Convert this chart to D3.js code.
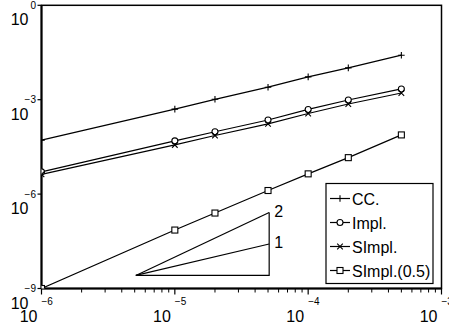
<!DOCTYPE html>
<html>
<head>
<meta charset="utf-8">
<script src="https://cdn.jsdelivr.net/npm/d3@7"></script>
<style>
  body { margin: 0; background: #fff; }
  svg { display: block; font-family: "Liberation Sans", Arial, Helvetica, sans-serif; }
</style>
</head>
<body>
<div id="chart"></div>
<script>
// step sizes (x) and errors (y)
const hValues = [1e-6, 1e-5, 2e-5, 5e-5, 1e-4, 2e-4, 5e-4];
const ccErr = [5.2e-5, 5.0e-4, 1.03e-3, 2.5e-3, 5.3e-3, 1.03e-2, 2.6e-2];
const implErr = [5.1e-6, 4.9e-5, 9.6e-5, 2.26e-4, 4.9e-4, 9.8e-4, 2.2e-3];
const simplErr = [4.25e-6, 3.65e-5, 7.3e-5, 1.7e-4, 3.65e-4, 7.3e-4, 1.63e-3];
const simpl05Err = [1.0e-9, 7.2e-8, 2.5e-7, 1.3e-6, 4.4e-6, 1.44e-5, 7.6e-5];
const seriesNames = ['CC.', 'Impl.', 'SImpl.', 'SImpl.(0.5)'];
const markerTypes = ['plus', 'circle', 'cross', 'square'];

const xTickExp = [-6, -5, -4, -3];
const yTickExp = [0, -3, -6, -9];

// slope triangle
const triX = [5.1e-6, 5.1e-5];
const triY = 2.6e-9;
const triSlopes = [1, 2];

const width = 449, height = 327;
const mLeft = 41.5, mRight = 441.5, mTop = 5.3, mBottom = 288.5;

const svg = d3.select('#chart').append('svg')
  .attr('width', width)
  .attr('height', height);

const x = d3.scaleLog().domain([1e-6, 1e-3]).range([mLeft, mRight]);
const y = d3.scaleLog().domain([1e-9, 1]).range([mBottom, mTop]);

svg.append('clipPath').attr('id', 'plotclip')
  .append('rect')
  .attr('x', mLeft).attr('y', mTop)
  .attr('width', mRight - mLeft).attr('height', mBottom - mTop);

// frame
svg.append('rect')
  .attr('x', mLeft).attr('y', mTop)
  .attr('width', mRight - mLeft).attr('height', mBottom - mTop)
  .attr('fill', 'none')
  .attr('stroke', '#000')
  .attr('stroke-width', 1.5);

// x axis: minor + major ticks downward
const minorX = [];
for (let e = -6; e < -3; e++) {
  for (let k = 2; k <= 9; k++) minorX.push(k * Math.pow(10, e));
}
svg.append('g').selectAll('line.minor')
  .data(minorX)
  .join('line')
  .attr('x1', d => x(d)).attr('x2', d => x(d))
  .attr('y1', mBottom).attr('y2', mBottom + 4)
  .attr('stroke', '#000').attr('stroke-width', 1);

const xt = svg.append('g').selectAll('g')
  .data(xTickExp)
  .join('g')
  .attr('transform', d => `translate(${x(Math.pow(10, d))},0)`);
xt.append('line')
  .attr('y1', mBottom).attr('y2', mBottom + 6)
  .attr('stroke', '#000').attr('stroke-width', 1.2);
xt.append('text')
  .attr('x', -4).attr('y', 322)
  .attr('text-anchor', 'end')
  .attr('font-size', 16)
  .text('10');
xt.append('text')
  .attr('x', 0).attr('y', 305)
  .attr('font-size', 10)
  .text(d => d === 0 ? '0' : '\u2212' + Math.abs(d));

// y axis
const yt = svg.append('g').selectAll('g')
  .data(yTickExp)
  .join('g')
  .attr('transform', d => `translate(0,${y(Math.pow(10, d))})`);
yt.append('line')
  .attr('x1', mLeft - 4).attr('x2', mLeft)
  .attr('stroke', '#000').attr('stroke-width', 1.2);
yt.append('text')
  .attr('x', 36).attr('y', 3.5)
  .attr('text-anchor', 'end')
  .attr('font-size', 10)
  .text(d => d === 0 ? '0' : '\u2212' + Math.abs(d));
yt.append('text')
  .attr('x', 28.5).attr('y', 20)
  .attr('text-anchor', 'end')
  .attr('font-size', 16)
  .text('10');

// thicker left and bottom axis lines
svg.append('line').attr('x1', mLeft).attr('x2', mLeft).attr('y1', mTop).attr('y2', mBottom)
  .attr('stroke', '#000').attr('stroke-width', 2);
svg.append('line').attr('x1', mLeft).attr('x2', mRight).attr('y1', mBottom).attr('y2', mBottom)
  .attr('stroke', '#000').attr('stroke-width', 2);

function drawMarker(g, type, cx, cy) {
  const s = 3.3;
  if (type === 'plus') {
    g.append('path').attr('d', `M${cx - s},${cy}H${cx + s}M${cx},${cy - s}V${cy + s}`)
      .attr('stroke', '#000').attr('fill', 'none').attr('stroke-width', 1.1);
  } else if (type === 'circle') {
    g.append('circle').attr('cx', cx).attr('cy', cy).attr('r', 3)
      .attr('stroke', '#000').attr('fill', '#fff').attr('stroke-width', 1.1);
  } else if (type === 'cross') {
    const c = 2.8;
    g.append('path').attr('d', `M${cx - c},${cy - c}L${cx + c},${cy + c}M${cx - c},${cy + c}L${cx + c},${cy - c}`)
      .attr('stroke', '#000').attr('fill', 'none').attr('stroke-width', 1.1);
  } else {
    g.append('rect').attr('x', cx - 3).attr('y', cy - 3).attr('width', 6).attr('height', 6)
      .attr('stroke', '#000').attr('fill', '#fff').attr('stroke-width', 1.1);
  }
}

const allSeries = [ccErr, implErr, simplErr, simpl05Err];
const line = d3.line().x((d, i) => x(hValues[i])).y(d => y(d));
const plot = svg.append('g').attr('clip-path', 'url(#plotclip)');

allSeries.forEach((vals, si) => {
  plot.append('path')
    .datum(vals)
    .attr('d', line)
    .attr('fill', 'none')
    .attr('stroke', '#000')
    .attr('stroke-width', 1.2);
});
allSeries.forEach((vals, si) => {
  vals.forEach((v, i) => drawMarker(plot, markerTypes[si], x(hValues[i]), y(v)));
});

// slope triangle
const tri = svg.append('g');
const tx0 = x(triX[0]), tx1 = x(triX[1]), ty0 = y(triY);
tri.append('path')
  .attr('d', `M${tx0},${ty0}H${tx1}V${y(triY * Math.pow(triX[1] / triX[0], d3.max(triSlopes)))}`)
  .attr('fill', 'none').attr('stroke', '#000').attr('stroke-width', 1.2);
triSlopes.forEach(s => {
  const yy = y(triY * Math.pow(triX[1] / triX[0], s));
  tri.append('line').attr('x1', tx0).attr('y1', ty0).attr('x2', tx1).attr('y2', yy)
    .attr('stroke', '#000').attr('stroke-width', 1.2);
  tri.append('text').attr('x', tx1 + 5).attr('y', yy + 4)
    .attr('font-size', 16).text(s);
});

// legend
const lg = svg.append('g');
lg.append('rect')
  .attr('x', 326).attr('y', 183.5).attr('width', 107).attr('height', 100)
  .attr('fill', '#fff').attr('stroke', '#000').attr('stroke-width', 1.2);
seriesNames.forEach((name, i) => {
  const ly = 198.5 + i * 24;
  lg.append('line').attr('x1', 330).attr('x2', 350).attr('y1', ly).attr('y2', ly)
    .attr('stroke', '#000').attr('stroke-width', 1.2);
  drawMarker(lg, markerTypes[i], 340, ly);
  lg.append('text').attr('x', 352).attr('y', ly + 6)
    .attr('font-size', 16).text(name);
});
</script>
</body>
</html>
